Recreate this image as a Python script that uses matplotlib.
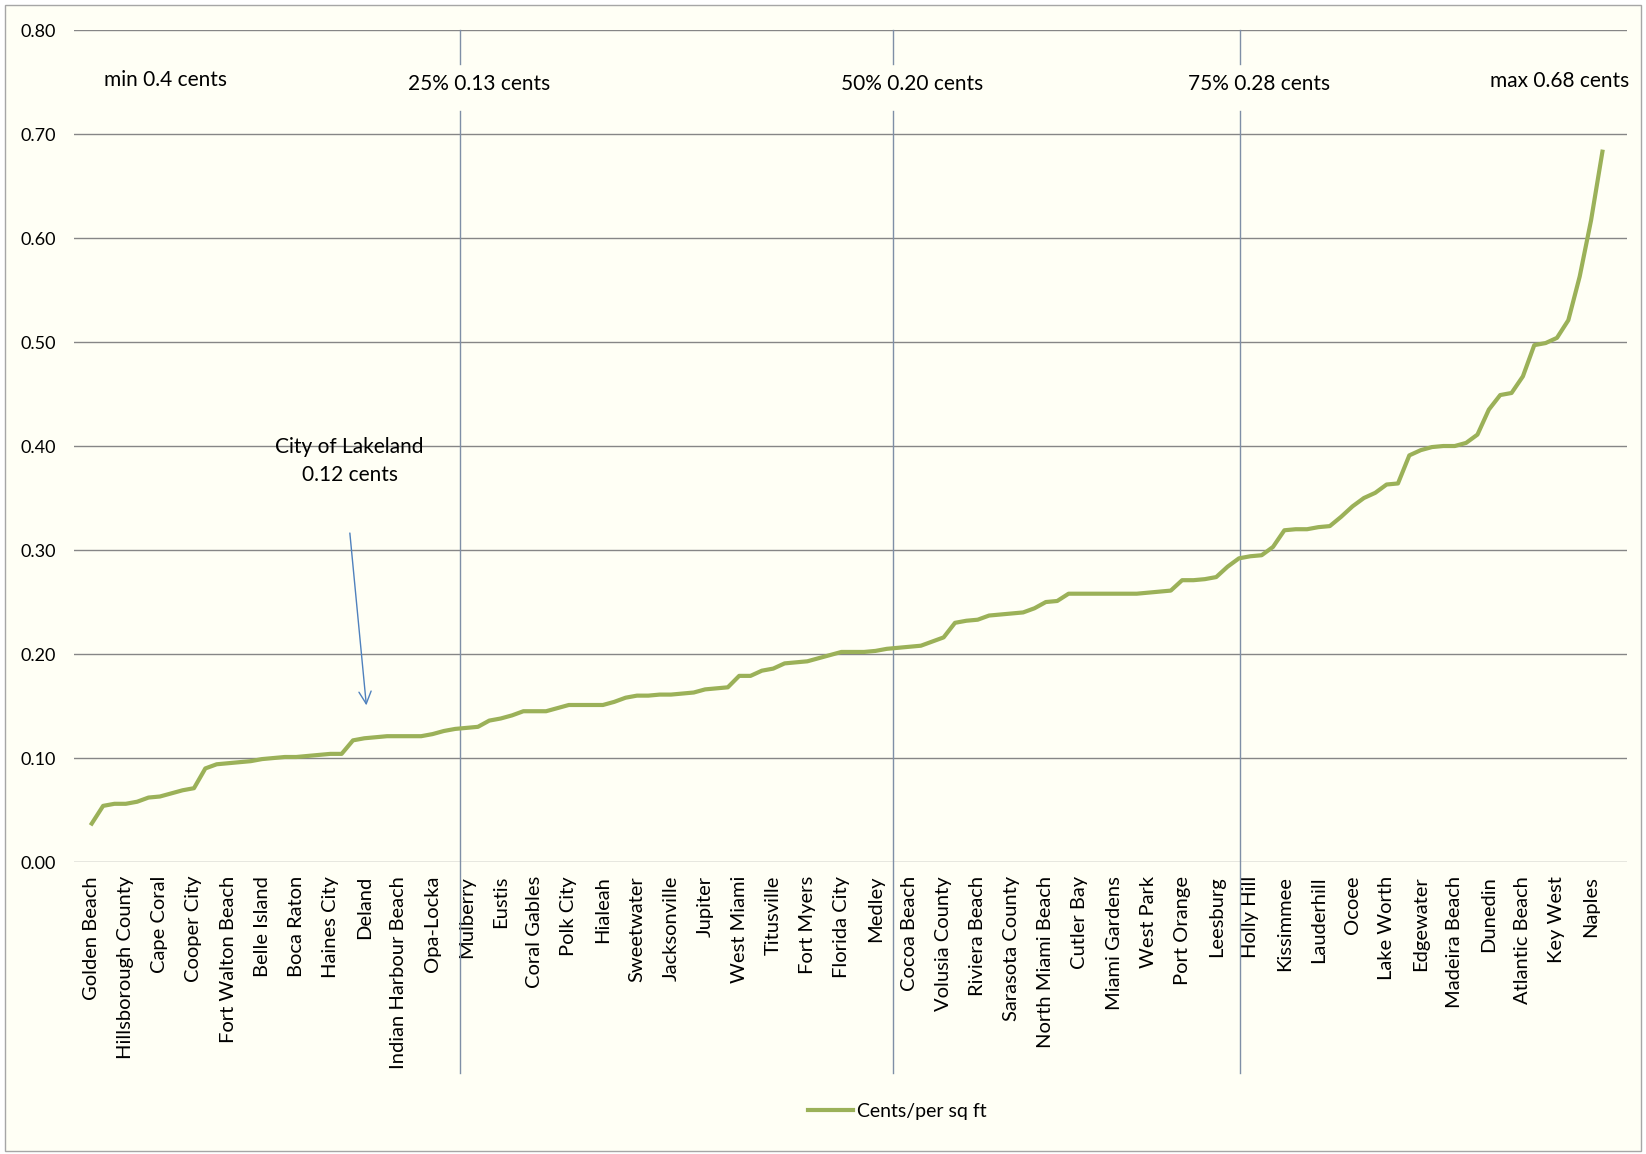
import matplotlib
matplotlib.use("Agg")
import matplotlib.pyplot as plt
from matplotlib.patches import Rectangle

plt.rcParams['font.family'] = ['Lato', 'DejaVu Sans']

# cents per sq ft, sorted, one value per city
cents = [
    0.037, 0.054, 0.056, 0.056, 0.058, 0.062, 0.063, 0.066, 0.069, 0.071,
    0.090, 0.094, 0.095, 0.096, 0.097, 0.099, 0.100, 0.101, 0.101, 0.102,
    0.103, 0.104, 0.104, 0.117, 0.119, 0.120, 0.121, 0.121, 0.121, 0.121,
    0.123, 0.126, 0.128, 0.129, 0.130, 0.136, 0.138, 0.141, 0.145, 0.145,
    0.145, 0.148, 0.151, 0.151, 0.151, 0.151, 0.154, 0.158, 0.160, 0.160,
    0.161, 0.161, 0.162, 0.163, 0.166, 0.167, 0.168, 0.179, 0.179, 0.184,
    0.186, 0.191, 0.192, 0.193, 0.196, 0.199, 0.202, 0.202, 0.202, 0.203,
    0.205, 0.206, 0.207, 0.208, 0.212, 0.216, 0.230, 0.232, 0.233, 0.237,
    0.238, 0.239, 0.240, 0.244, 0.250, 0.251, 0.258, 0.258, 0.258, 0.258,
    0.258, 0.258, 0.258, 0.259, 0.260, 0.261, 0.271, 0.271, 0.272, 0.274,
    0.284, 0.292, 0.294, 0.295, 0.303, 0.319, 0.320, 0.320, 0.322, 0.323,
    0.332, 0.342, 0.350, 0.355, 0.363, 0.364, 0.391, 0.396, 0.399, 0.400,
    0.400, 0.403, 0.411, 0.435, 0.449, 0.451, 0.467, 0.497, 0.499, 0.504,
    0.521, 0.563, 0.617, 0.683,
]

# only every third city is labelled on the axis
city_labels = [
    "Golden Beach", "Hillsborough County", "Cape Coral", "Cooper City",
    "Fort Walton Beach", "Belle Island", "Boca Raton", "Haines City", "Deland",
    "Indian Harbour Beach", "Opa-Locka", "Mulberry", "Eustis", "Coral Gables",
    "Polk City", "Hialeah", "Sweetwater", "Jacksonville", "Jupiter",
    "West Miami", "Titusville", "Fort Myers", "Florida City", "Medley",
    "Cocoa Beach", "Volusia County", "Riviera Beach", "Sarasota County",
    "North Miami Beach", "Cutler Bay", "Miami Gardens", "West Park",
    "Port Orange", "Leesburg", "Holly Hill", "Kissimmee", "Lauderhill",
    "Ocoee", "Lake Worth", "Edgewater", "Madeira Beach", "Dunedin",
    "Atlantic Beach", "Key West", "Naples",
]

quartile_text = ["25% 0.13 cents", "50% 0.20 cents", "75% 0.28 cents"]
quartile_x = [32.4, 70.5, 101.1]

fig = plt.figure(figsize=(16.46, 11.54), dpi=100, facecolor='white')
fig.patches.append(Rectangle((5 / 1646, 3 / 1154), 1636 / 1646, 1146 / 1154,
                             transform=fig.transFigure, facecolor='#FFFFF5',
                             edgecolor='#A6A6A6', lw=1, zorder=-10))

ax = fig.add_axes([0.0447, 0.253, 0.944, 0.721])
ax.set_facecolor('none')

x = range(len(cents))
ax.plot(x, cents, color='#9BB158', lw=3, label='Cents/per sq ft',
        solid_joinstyle='round', zorder=3)

ax.set_xlim(-1.6, 135.2)
ax.set_ylim(0, 0.8)
yt = [i / 10 for i in range(9)]
ax.set_yticks(yt)
ax.set_yticklabels([f"{v:.2f}" for v in yt], fontsize=13)
ax.set_xticks(range(0, len(cents), 3))
ax.set_xticklabels(city_labels, rotation=90, fontsize=14.5, ha='center', va='top')
ax.tick_params(length=0)
ax.tick_params(axis='y', pad=13)
ax.tick_params(axis='x', pad=10)
ax.grid(axis='y', color='#868686', lw=1)
ax.set_axisbelow(True)
for s in ax.spines.values():
    s.set_visible(False)

# quartile markers
for qx, qt in zip(quartile_x, quartile_text):
    ax.plot([qx, qx], [0.8, 0.767], color='#7F8FA6', lw=1, clip_on=False)
    ax.plot([qx, qx], [0.722, -0.203], color='#7F8FA6', lw=1, clip_on=False)
    ax.text(qx + 1.7, 0.748, qt, fontsize=15, ha='center', va='center')

ax.text(6.5, 0.752, "min 0.4 cents", fontsize=15, ha='center', va='center')
ax.text(129.2, 0.751, "max 0.68 cents", fontsize=15, ha='center', va='center',
        clip_on=False)

ax.text(22.7, 0.386, "City of Lakeland\n0.12 cents", fontsize=15,
        ha='center', va='center', linespacing=1.5)
ax.annotate('', xy=(24.2, 0.148), xytext=(22.7, 0.319),
            arrowprops=dict(arrowstyle='->', color='#4F81BD', lw=1,
                            mutation_scale=22))

ax.legend(loc='center', bbox_to_anchor=(0.545, 0.037),
          bbox_transform=fig.transFigure, frameon=False, fontsize=14,
          handlelength=2.3, handletextpad=0.2)

plt.savefig("out.png", dpi=100, facecolor=fig.get_facecolor())
